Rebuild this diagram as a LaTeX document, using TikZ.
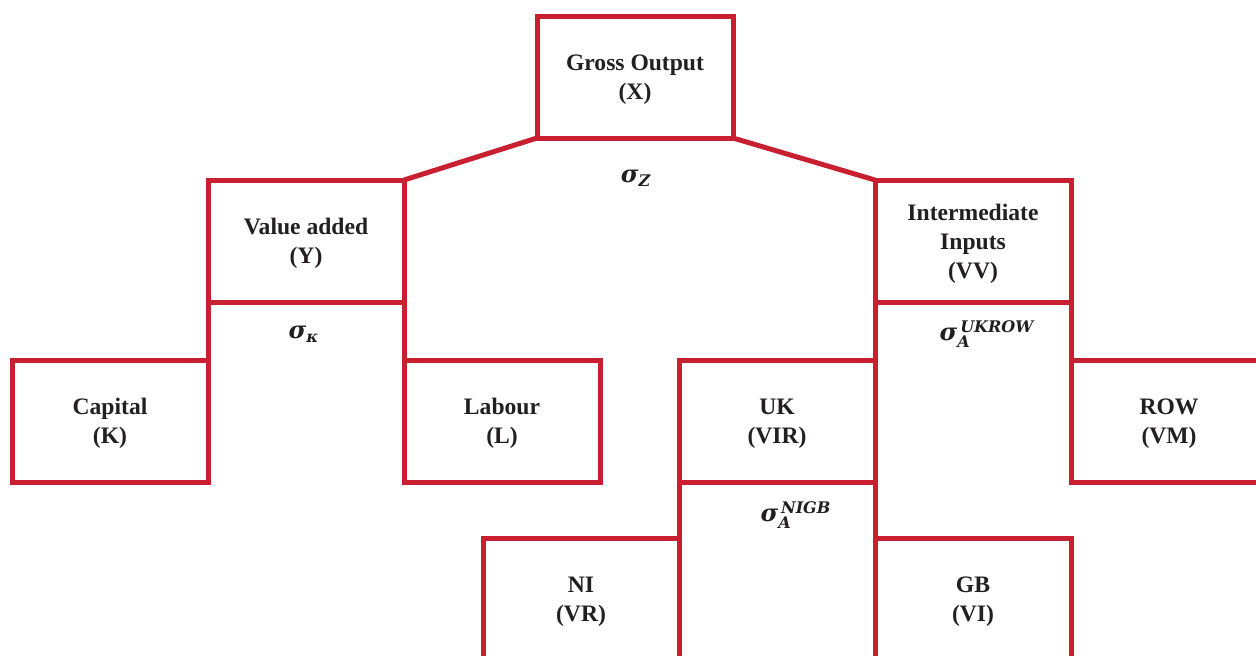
\documentclass[tikz,border=0pt]{standalone}
\usepackage{amsmath, amssymb}
\usepackage{fontspec}
\setmainfont{Liberation Serif}
\newfontfamily\sigfont{DejaVu Serif}
\definecolor{boxred}{RGB}{200,32,48}
\definecolor{txt}{RGB}{35,31,32}

\begin{document}
\begin{tikzpicture}[x=0.5pt,y=-0.5pt]
\tikzstyle{bloc}=[rectangle,draw=boxred,line width=2.5pt,outer sep=0pt,
minimum width=98pt,minimum height=61pt,align=center,text=txt,
font=\fontsize{11.8}{14.5}\selectfont\bfseries,text depth=-5pt]
\tikzstyle{elas}=[text=txt,font=\fontsize{12}{14}\selectfont\sigfont\bfseries\itshape]
\tikzstyle{lien}=[draw=boxred,line width=2.5pt]

\useasboundingbox (0,0) rectangle (1256,655);
\clip (0,0) rectangle (1256,655);

\node[bloc] (go) at (635,77) {Gross Output\\(X)};
\node[bloc] (va) at (306,241) {Value added\\(Y)};
\node[bloc] (ii) at (973,241) {Intermediate\\Inputs\\(VV)};
\node[bloc] (cap) at (110,421) {Capital\\(K)};
\node[bloc] (lab) at (502,421) {Labour\\(L)};
\node[bloc] (uk) at (777,421) {UK\\(VIR)};
\node[bloc] (row) at (1169,421) {ROW\\(VM)};
\node[bloc] (ni) at (581,599) {NI\\(VR)};
\node[bloc] (gb) at (973,599) {GB\\(VI)};

\node[elas] (sz) at (636,178) {$\text{σ}_{\text{Z}}$};
\node[elas] (sk) at (304,334) {$\text{σ}_{\text{κ}}$};
\node[elas] (sukrow) at (987,334) {$\text{σ}_{\text{A}}^{\,\text{UKROW}}$};
\node[elas] (snigb) at (796,515) {$\text{σ}_{\text{A}}^{\,\text{NIGB}}$};

\draw[lien] (go.south west) -- (va.north east);
\draw[lien] (go.south east) -- (ii.north west);
\draw[lien] (va.south west) -- (cap.north east);
\draw[lien] (va.south east) -- (lab.north west);
\draw[lien] (ii.south west) -- (uk.north east);
\draw[lien] (ii.south east) -- (row.north west);
\draw[lien] (uk.south west) -- (ni.north east);
\draw[lien] (uk.south east) -- (gb.north west);

\end{tikzpicture}
\end{document}
